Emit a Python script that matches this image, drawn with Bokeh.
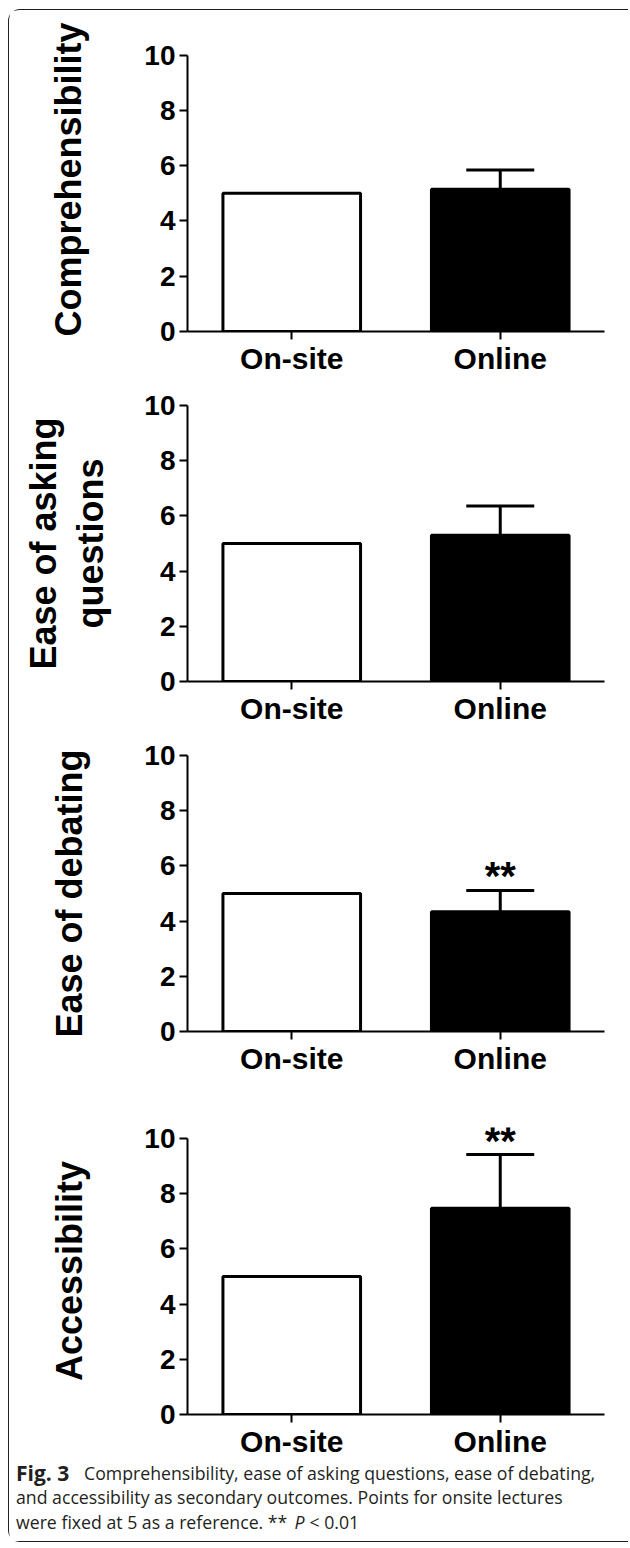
from bokeh.plotting import figure
from bokeh.layouts import column
from bokeh.models import FixedTicker, Range1d, FactorRange, ColumnDataSource
from bokeh.transform import dodge
from bokeh.core.properties import value
from bokeh.embed import file_html
from bokeh.resources import INLINE

# ---------------- data ----------------
categories = ["On-site", "Online"]
panel_titles = ["Comprehensibility", "Ease of asking\nquestions", "Ease of debating", "Accessibility"]
onsite_values = [5.0, 5.0, 5.0, 5.0]
online_values = [5.15, 5.30, 4.34, 7.47]
online_error_top = [5.84, 6.36, 5.11, 9.42]
significance = ["", "", "**", "**"]
y_ticks = [0, 2, 4, 6, 8, 10]
caption_bold = "Fig. 3"
caption_line1 = "Comprehensibility, ease of asking questions, ease of debating,"
caption_line2 = "and accessibility as secondary outcomes. Points for onsite lectures"
caption_line3a = "were fixed at 5 as a reference. **"
caption_line3b = "P"
caption_line3c = "< 0.01"

# ---------------- layout (px) ----------------
W = 619
UNIT = 27.7                      # px per y unit
BORDER_L = 178
BORDER_R = 24
y_tops = [11, 10, 10, 10.4]      # visible y-range top per panel
tops = [17, 28, 28, 50]
bottoms = [45, 45, 45, 45]
CAP_H = 81
label_standoffs = [52, 30, 51, 51]
FONT = "Liberation Sans"


def make_panel(i):
    frame_h = int(round(y_tops[i] * UNIT))
    p = figure(width=W, height=tops[i] + frame_h + bottoms[i],
               x_range=FactorRange(factors=categories), y_range=Range1d(0, y_tops[i]),
               output_backend="svg", toolbar_location=None,
               min_border_left=BORDER_L, min_border_right=BORDER_R,
               min_border_top=tops[i], min_border_bottom=bottoms[i])
    p.outline_line_color = None
    p.grid.visible = False
    p.background_fill_color = "white"
    p.border_fill_color = "white"

    src = ColumnDataSource(dict(cat=categories,
                                val=[onsite_values[i], online_values[i]],
                                fill=["white", "black"]))
    p.vbar(x="cat", top="val", bottom=0, width=0.66, source=src,
           fill_color="fill", line_color="black", line_width=3)

    esrc = ColumnDataSource(dict(cat=[categories[1]], lo=[online_values[i]],
                                 hi=[online_error_top[i]], s=[significance[i]]))
    p.segment(x0="cat", y0="lo", x1="cat", y1="hi", source=esrc,
              line_width=3, line_color="black")
    p.segment(x0=dodge("cat", -0.163, range=p.x_range), y0="hi",
              x1=dodge("cat", 0.163, range=p.x_range), y1="hi", source=esrc,
              line_width=3, line_color="black")
    if significance[i]:
        p.text(x="cat", y="hi", text="s", source=esrc, text_align="center",
               text_baseline="alphabetic", y_offset=-14, text_font=value(FONT),
               text_font_style="bold", text_font_size="40px", text_color="black")

    ya = p.yaxis[0]
    ya.ticker = FixedTicker(ticks=y_ticks)
    ya.bounds = (0, 10)
    ya.axis_line_width = 2
    ya.major_tick_line_width = 2
    ya.major_tick_out = 8
    ya.major_tick_in = 0
    ya.minor_tick_line_color = None
    ya.major_label_standoff = 4
    ya.major_label_text_font = FONT
    ya.major_label_text_font_style = "bold"
    ya.major_label_text_font_size = "28px"
    ya.major_label_text_color = "black"
    ya.axis_label = panel_titles[i]
    ya.axis_label_standoff = label_standoffs[i]
    ya.axis_label_text_font = FONT
    ya.axis_label_text_font_style = "bold"
    ya.axis_label_text_font_size = "36px"
    ya.axis_label_text_color = "black"
    ya.axis_label_text_line_height = 1.15

    xa = p.xaxis[0]
    xa.axis_line_width = 2
    xa.major_tick_line_width = 2
    xa.major_tick_out = 8
    xa.major_tick_in = 0
    xa.minor_tick_line_color = None
    xa.major_label_standoff = 2
    xa.major_label_text_font = FONT
    xa.major_label_text_font_style = "bold"
    xa.major_label_text_font_size = "30px"
    xa.major_label_text_color = "black"
    return p


panels = [make_panel(i) for i in range(4)]

cap = figure(width=W, height=CAP_H, x_range=Range1d(0, W), y_range=Range1d(CAP_H, 0),
             x_axis_type=None, y_axis_type=None, output_backend="svg",
             toolbar_location=None, min_border=0)
try:
    cap.frame_align = False
except Exception:
    pass
cap.outline_line_color = None
cap.background_fill_color = "white"
cap.border_fill_color = "white"
cap_font = value("Open Sans")
ccol = "#231f20"
CAP_SIZE = "17.7px"
cap.text(x=[6.5], y=[12], text=[caption_bold], text_font=cap_font, text_font_style="bold",
         text_font_size="21px", text_baseline="alphabetic", text_color=ccol)
cap.text(x=[74.5, 6.5, 6.5], y=[12, 36.5, 61],
         text=[caption_line1, caption_line2, caption_line3a], text_font=cap_font,
         text_font_size=CAP_SIZE, text_baseline="alphabetic", text_color=ccol)
cap.text(x=[285.0], y=[61], text=[caption_line3b], text_font=cap_font,
         text_font_style="italic", text_font_size=CAP_SIZE, text_baseline="alphabetic",
         text_color=ccol)
cap.text(x=[300.0], y=[61], text=[caption_line3c], text_font=cap_font,
         text_font_size=CAP_SIZE, text_baseline="alphabetic", text_color=ccol)

layout = column(*panels, cap, spacing=0,
                styles={"border": "1.5px solid #231f20", "border-right": "none",
                        "border-radius": "12px 0 0 12px",
                        "margin-left": "8px", "margin-top": "9px"})

open("out.html", "w").write(file_html(layout, INLINE))
